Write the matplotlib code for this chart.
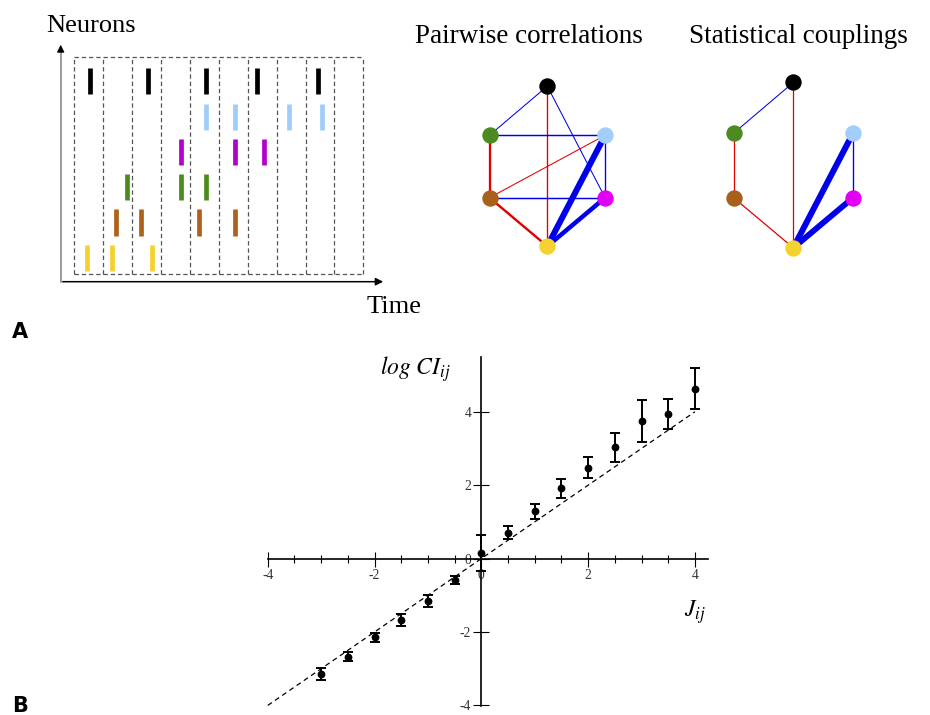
import numpy as np
import matplotlib
matplotlib.use('Agg')
import matplotlib.pyplot as plt

W, H, DPI = 930, 715, 100
plt.rcParams['font.family'] = ['Liberation Serif', 'DejaVu Serif']
plt.rcParams['mathtext.fontset'] = 'stix'

# ---------------- Panel A: raster (spike times in units of time bins) ----------------
n_bins = 10
spikes_yellow = [0.44, 1.30, 2.69]
spikes_brown = [1.44, 2.31, 4.31, 5.56]
spikes_green = [1.81, 3.68, 4.56]
spikes_purple = [3.68, 5.56, 6.56]
spikes_lightblue = [4.56, 5.56, 7.43, 8.56]
spikes_black = [0.55, 2.56, 4.55, 6.31, 8.43]

# ---------------- Panel A: graphs (signed edge strengths) ----------------
neuron_names = ['black', 'green', 'lightblue', 'brown', 'magenta', 'yellow']
corr_edges = [('black', 'green', 1.0), ('black', 'yellow', -1.3), ('black', 'magenta', 1.0),
              ('green', 'lightblue', 1.4), ('green', 'brown', -2.2), ('brown', 'lightblue', -1.0),
              ('brown', 'magenta', 1.4), ('brown', 'yellow', -2.3), ('lightblue', 'yellow', 5.8),
              ('lightblue', 'magenta', 1.3), ('magenta', 'yellow', 4.3)]
coup_edges = [('black', 'green', 1.0), ('black', 'yellow', -1.2), ('green', 'brown', -1.2),
              ('brown', 'yellow', -1.2), ('lightblue', 'yellow', 5.8), ('lightblue', 'magenta', 1.3),
              ('magenta', 'yellow', 5.6)]

# ---------------- Panel B: log CI vs J ----------------
J = [-3, -2.5, -2, -1.5, -1, -0.5, 0, 0.5, 1, 1.5, 2, 2.5, 3, 3.5, 4]
logCI = [-3.15, -2.67, -2.15, -1.67, -1.15, -0.58, 0.145, 0.71, 1.29, 1.92, 2.48, 3.03, 3.75, 3.95, 4.63]
err = [0.16, 0.12, 0.13, 0.16, 0.16, 0.11, 0.49, 0.17, 0.21, 0.26, 0.29, 0.40, 0.56, 0.41, 0.55]
identity_x = np.array([-4.0, 4.0])
xtick_major = [-4, -2, 0, 2, 4]
xtick_labels = ['-4', '-2', '0', '2', '4']
xtick_minor = np.arange(-4, 4.01, 0.5)
ytick_vals = [-4, -2, 0, 2, 4]
ytick_labels = ['-4', '-2', '0', '2', '4']

# colours / styles
spike_colors = ['#f5d130', '#b0601a', '#4d8a1e', '#b400cc', '#9fcdfa', '#000000']
node_colors = {'black': '#000000', 'green': '#4e8a22', 'lightblue': '#a3cdfb',
               'brown': '#a8601a', 'magenta': '#e100f5', 'yellow': '#f5d22f'}
layout = {'black': (0, 1.93), 'green': (-1, 1.08), 'lightblue': (1, 1.08),
          'brown': (-1, 0.0), 'magenta': (1, 0.0), 'yellow': (0, -0.84)}
POS, NEG = '#0000ee', '#e00000'


def rect(x0, y0, x1, y1):
    return [x0 / W, 1 - y1 / H, (x1 - x0) / W, (y1 - y0) / H]


fig = plt.figure(figsize=(W / DPI, H / DPI), dpi=DPI)
canvas = fig.add_axes([0, 0, 1, 1])
canvas.set_xlim(0, W)
canvas.set_ylim(H, 0)
canvas.axis('off')

# raster axes decorations
canvas.plot([60.7, 60.7], [281.7, 50], color='#808080', lw=1.1)
canvas.annotate('', xy=(60.7, 42), xytext=(60.7, 54),
                arrowprops=dict(arrowstyle='-|>', color='black', lw=0.8, mutation_scale=11))
canvas.annotate('', xy=(386, 281.7), xytext=(60, 281.7),
                arrowprops=dict(arrowstyle='-|>', color='black', lw=1.1, mutation_scale=11))
canvas.text(46, 31.5, 'Neurons', fontsize=19, ha='left', va='baseline')
canvas.text(367, 313, 'Time', fontsize=19, ha='left', va='baseline')
canvas.text(528.5, 43, 'Pairwise correlations', fontsize=19.5, ha='center', va='baseline')
canvas.text(798.5, 43, 'Statistical couplings', fontsize=19.5, ha='center', va='baseline')
canvas.text(12, 338, 'A', fontsize=15, fontweight='bold', family='DejaVu Sans', ha='left', va='baseline')
canvas.text(12, 712, 'B', fontsize=15, fontweight='bold', family='DejaVu Sans', ha='left', va='baseline')
canvas.text(380, 375, r'$log\ CI_{ij}$', fontsize=17, ha='left', va='baseline')
canvas.text(684, 617, r'$J_{ij}$', fontsize=17, ha='left', va='baseline')

# ---- raster ----
rax = fig.add_axes(rect(74.3, 57.3, 363.3, 274))
rax.set_facecolor('none')
ylo, yhi = -0.46, 5.68
rax.set_xlim(0, n_bins)
rax.set_ylim(ylo, yhi)
rax.axis('off')
dash = (0, (3.5, 2.3))
rax.vlines(np.arange(n_bins + 1), ylo, yhi, colors='#555555', lw=0.9, linestyles=dash, clip_on=False)
rax.hlines([ylo, yhi], 0, n_bins, colors='#555555', lw=0.9, linestyles=dash, clip_on=False)
rows = [spikes_yellow, spikes_brown, spikes_green, spikes_purple, spikes_lightblue, spikes_black]
for r, (times, c) in enumerate(zip(rows, spike_colors)):
    rax.vlines(times, r - 0.37, r + 0.37, colors=c, lw=3.4)


# ---- graphs ----
def draw_graph(ax, edges):
    ax.set_facecolor('none')
    ax.set_xlim(-1.6, 1.6)
    ax.set_ylim(-1.4, 2.5)
    ax.axis('off')
    for a, b, w in edges:
        (xa, ya), (xb, yb) = layout[a], layout[b]
        ax.plot([xa, xb], [ya, yb], color=POS if w > 0 else NEG, lw=abs(w) * 0.75,
                solid_capstyle='butt', zorder=1)
    for name in neuron_names:
        x, y = layout[name]
        ax.plot(x, y, 'o', ms=11.8, color=node_colors[name], mec='none', zorder=3)


u1, cx1, by1 = 57.8, 547.3, 197.7
g1 = fig.add_axes(rect(cx1 - 1.6 * u1, by1 - 2.5 * u1, cx1 + 1.6 * u1, by1 + 1.4 * u1))
draw_graph(g1, corr_edges)
u2, cx2, by2 = 59.7, 793.3, 197.7
g2 = fig.add_axes(rect(cx2 - 1.6 * u2, by2 - 2.5 * u2, cx2 + 1.6 * u2, by2 + 1.4 * u2))
draw_graph(g2, coup_edges)

# ---- panel B ----
bax = fig.add_axes(rect(240, 345, 720, 712))
bax.set_facecolor('none')
bax.set_xlim(-4.52, 4.47)
bax.set_ylim(-4.18, 5.82)
for s in ['top', 'right']:
    bax.spines[s].set_visible(False)
bax.spines['left'].set_position(('data', 0))
bax.spines['bottom'].set_position(('data', 0))
bax.spines['bottom'].set_bounds(-4, 4.25)
bax.spines['left'].set_bounds(-4.03, 5.5)
for s in ['left', 'bottom']:
    bax.spines[s].set_linewidth(1.2)
bax.set_xticks(xtick_major)
bax.set_xticklabels(xtick_labels)
bax.set_xticks(xtick_minor, minor=True)
bax.set_yticks(ytick_vals)
bax.set_yticklabels(ytick_labels)
bax.tick_params(axis='x', which='major', direction='inout', length=10.8, width=0.8, pad=2.4,
                labelsize=9.8, labelcolor='#333333')
bax.tick_params(axis='x', which='minor', direction='inout', length=5.5, width=0.8)
bax.tick_params(axis='y', direction='inout', length=11.5, width=0.8, pad=1.5,
                labelsize=9.8, labelcolor='#333333')
bax.plot(identity_x, identity_x, color='black', lw=0.9, ls=(0, (4, 3)))
bax.errorbar(J, logCI, yerr=err, fmt='o', color='black', ms=4.6, capsize=3.6,
             elinewidth=1.4, capthick=1.4, clip_on=False, zorder=3)

fig.savefig('out.png', dpi=DPI)
